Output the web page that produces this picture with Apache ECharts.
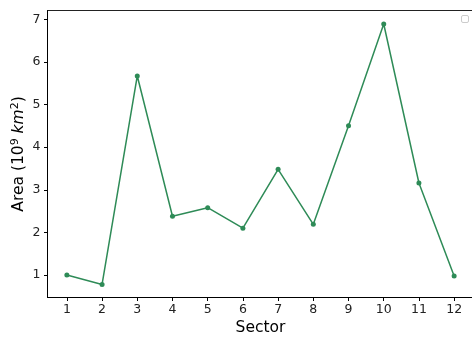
<!DOCTYPE html>
<html>
<head>
<meta charset="utf-8">
<script src="https://cdn.jsdelivr.net/npm/echarts@6/dist/echarts.min.js"></script>
<style>
  html, body { margin: 0; padding: 0; background: #fff; overflow: hidden; }
  /* the plot frame runs past the right edge of the window, so the canvas is a bit wider */
  #chart { width: 490px; height: 338px; }
</style>
</head>
<body>
<div id="chart"></div>
<script>
// Sector numbers and their areas (10^9 km^2)
const sectors = [1, 2, 3, 4, 5, 6, 7, 8, 9, 10, 11, 12];
const areas = [1.0, 0.78, 5.67, 2.38, 2.58, 2.1, 3.48, 2.19, 4.5, 6.89, 3.16, 0.98];
const xTicks = [1, 2, 3, 4, 5, 6, 7, 8, 9, 10, 11, 12];
const yTicks = [1, 2, 3, 4, 5, 6, 7];

const FONT = 'DejaVu Sans';
const points = sectors.map((s, i) => [s, areas[i]]);

const chart = echarts.init(document.getElementById('chart'), null, { renderer: 'canvas' });

chart.setOption({
  animation: false,
  backgroundColor: '#fff',
  grid: {
    left: 47.5, top: 10.5, width: 426, height: 287,
    outerBoundsMode: 'none',
    containLabel: false,
    show: true, borderColor: '#222', borderWidth: 1, backgroundColor: 'transparent'
  },
  xAxis: {
    type: 'value',
    min: 0.45, max: 12.55,
    name: 'Sector',
    nameLocation: 'middle',
    nameGap: 22,
    nameMoveOverlap: false,
    nameTextStyle: { fontFamily: FONT, fontSize: 15.5, color: '#000' },
    axisLine: { show: true, onZero: false, lineStyle: { color: '#000', width: 1 } },
    axisTick: { show: true, length: 3.5, customValues: xTicks, lineStyle: { color: '#000', width: 1 } },
    axisLabel: { customValues: xTicks, margin: 6, fontFamily: FONT, fontSize: 12.5, color: '#222' },
    splitLine: { show: false }
  },
  yAxis: {
    type: 'value',
    min: 0.474, max: 7.206,
    name: '{n|Area (10}{s|9}{n| }{i|km}{s|2}{n|)}',
    nameLocation: 'middle',
    nameRotate: 90,
    nameGap: 19,
    nameMoveOverlap: false,
    nameTextStyle: {
      fontFamily: FONT, fontSize: 15.5, color: '#000',
      rich: {
        n: { fontFamily: FONT, fontSize: 15.5, color: '#000' },
        i: { fontFamily: FONT, fontSize: 15.5, color: '#000', fontStyle: 'italic' },
        s: { fontFamily: FONT, fontSize: 11, color: '#000', padding: [0, 0, 8, 0] }
      }
    },
    axisLine: { show: true, onZero: false, lineStyle: { color: '#000', width: 1 } },
    axisTick: { show: true, length: 3.5, customValues: yTicks, lineStyle: { color: '#000', width: 1 } },
    axisLabel: { customValues: yTicks, margin: 7, fontFamily: FONT, fontSize: 12.5, color: '#222' },
    splitLine: { show: false }
  },
  graphic: [{
    type: 'rect',
    shape: { x: 461.5, y: 15.5, width: 7, height: 7, r: 1.5 },
    style: { fill: '#fff', stroke: '#ccc', lineWidth: 1 }
  }],
  series: [{
    type: 'line',
    data: points,
    symbol: 'circle',
    symbolSize: 5,
    itemStyle: { color: '#2e8b57' },
    lineStyle: { color: '#2e8b57', width: 1.5 },
    clip: false
  }]
});
</script>
</body>
</html>
